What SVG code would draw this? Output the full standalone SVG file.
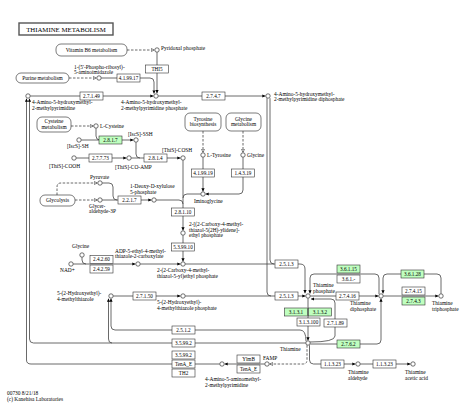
<svg xmlns="http://www.w3.org/2000/svg" width="474" height="404" viewBox="0 0 474 404">
<style>
.ln{fill:none;stroke:#444;stroke-width:0.8}
.ds{fill:none;stroke:#444;stroke-width:0.8;stroke-dasharray:2.5,1.5}
.box{fill:#fff;stroke:#333;stroke-width:0.6}
.gr{fill:#bfffbf}
.cpd{fill:#fff;stroke:#333;stroke-width:0.7}
.map{fill:#fff;stroke:#444;stroke-width:0.7}
text{font-family:"Liberation Serif","Times New Roman",serif;font-size:5.4px;fill:#000}
.c{text-anchor:middle}
.e{font-size:5.2px;text-anchor:middle}
</style>
<defs>
<marker id="a" viewBox="0 0 6 6" refX="6" refY="3" markerWidth="3.2" markerHeight="3.2" markerUnits="userSpaceOnUse" orient="auto"><path d="M0,0L6,3L0,6z" fill="#000"/></marker>
<marker id="o" viewBox="0 0 7 7" refX="6.5" refY="3.5" markerWidth="3.6" markerHeight="3.6" markerUnits="userSpaceOnUse" orient="auto"><path d="M0.6,0.6L6.4,3.5L0.6,6.4z" fill="#fff" stroke="#000" stroke-width="0.9"/></marker>
</defs>
<rect width="474" height="404" fill="#fff"/>
<g id="title"><rect x="19" y="23" width="94" height="12" fill="#fff" stroke="#555" stroke-width="1.4"/><text x="66" y="31.6" class="c" style="font-size:6.8px">THIAMINE METABOLISM</text></g>

<g id="connectors">
<path class="ds" d="M127,50H154.3" marker-end="url(#o)"/>
<path class="ds" d="M69,78H96.3" marker-end="url(#o)"/>
<path class="ds" d="M71,126H93.3" marker-end="url(#o)"/>
<path class="ds" d="M203,131V152.3" marker-end="url(#o)"/>
<path class="ds" d="M243,131V152.3" marker-end="url(#o)"/>
<path class="ds" d="M57,195V187Q57,183 61,183H97.3" marker-end="url(#o)"/>
<path class="ds" d="M75,200H97.3" marker-end="url(#o)"/>
<path class="ds" d="M307,345.2V360Q307,364 303,364H269.7" marker-end="url(#o)"/>
<path class="ln" d="M157,52.2V93.3" marker-end="url(#a)"/>
<path class="ln" d="M101.2,78H150Q154,78 154,82V93.6" marker-end="url(#a)"/>
<path class="ln" d="M30.2,96H153.5" marker-end="url(#a)"/>
<path class="ln" d="M158.2,96H265.5" marker-end="url(#a)"/>
<path class="ln" d="M81.2,140H133.5" marker-end="url(#a)"/>
<path class="ln" d="M96,128.2V136Q96,140 100,140"/>
<path class="ln" d="M136,142.2V154Q136,158 140,158"/>
<path class="ln" d="M76.2,158H126.5" marker-end="url(#a)"/>
<path class="ln" d="M131.2,158H180.5" marker-end="url(#a)"/>
<path class="ln" d="M183,160.2V230.5" marker-end="url(#a)"/>
<path class="ln" d="M156.2,200H179Q183,200 183,204"/>
<path class="ln" d="M200.8,194H187Q183,194 183,198"/>
<path class="ln" d="M102.2,183H109Q113,183 113,187V196Q113,200 117,200"/>
<path class="ln" d="M102.2,200H151.5" marker-end="url(#a)"/>
<path class="ln" d="M203,157.2V191.5" marker-end="url(#a)"/>
<path class="ln" d="M243,157.2V190Q243,194 239,194H205.5" marker-end="url(#a)"/>
<path class="ln" d="M183,235.2V261.5" marker-end="url(#a)"/>
<path class="ln" d="M82,257.2V260Q82,264 86,264"/>
<path class="ln" d="M73.2,264H135.5" marker-end="url(#a)"/>
<path class="ln" d="M140.2,264H180.5" marker-end="url(#a)"/>
<path class="ln" d="M185.2,264H300Q305,264 305,269V293.3" marker-end="url(#a)"/>
<path class="ln" d="M270,98.2V260Q270,264 274,264"/>
<path class="ln" d="M267,98.2V292Q267,296 271,296"/>
<path class="ln" d="M113.2,296H180.5" marker-end="url(#a)"/>
<path class="ln" d="M185.2,296H305.5" marker-end="url(#a)"/>
<path class="ln" d="M379,294V278Q379,274 375,274H314Q310,274 310,278V293.5" marker-end="url(#a)"/>
<path class="ln" d="M441,293.8V278Q441,274 437,274H387Q383,274 383,278V293.5" marker-end="url(#a)"/>
<path class="ln" d="M310.2,296H378.5" marker-end="url(#a)"/>
<path class="ln" d="M383.2,296H438.5" marker-end="url(#a)"/>
<path class="ln" d="M308,298.2V340.5" marker-end="url(#a)"/>
<path class="ln" d="M310,342Q335,342 335,336V303Q335,299 331,299H311" marker-end="url(#a)"/>
<path class="ln" d="M310.2,344H377Q381,344 381,340V298.5" marker-end="url(#a)"/>
<path class="ln" d="M306,341.2Q306,330 300,330H115Q111,330 111,326V298.5" marker-end="url(#a)"/>
<path class="ln" d="M305.8,343H33.5Q29.5,343 29.5,339V98.6" marker-end="url(#a)"/>
<path class="ln" d="M112,343Q108.5,343 108.5,339V298.6" marker-end="url(#a)"/>
<path class="ln" d="M219.8,364H31Q26.5,364 26.5,360V98.6" marker-end="url(#a)"/>
<path class="ln" d="M264.8,364H224.5" marker-end="url(#a)"/>
<path class="ln" d="M309.5,345.2V360Q309.5,364 313.5,364H355.5" marker-end="url(#a)"/>
<path class="ln" d="M360.2,364H410.5" marker-end="url(#a)"/>
</g>

<g id="maps">
<g id="map_vitb6"><rect class="map" x="56" y="44" width="71" height="12" rx="5"/><text x="91.5" y="51.9" class="c">Vitamin B6 metabolism</text></g>
<g id="map_purine"><rect class="map" x="16" y="73" width="53" height="10" rx="5"/><text x="42.5" y="79.9" class="c">Purine metabolism</text></g>
<g id="map_cysteine"><rect class="map" x="37" y="117" width="34" height="15" rx="5"/><text x="54" y="123.4" class="c">Cysteine</text><text x="54" y="129" class="c">metabolism</text></g>
<g id="map_tyrosine"><rect class="map" x="185" y="113" width="36" height="18" rx="5"/><text x="203" y="120.6" class="c">Tyrosine</text><text x="203" y="126.4" class="c">biosynthesis</text></g>
<g id="map_glycine"><rect class="map" x="226" y="113" width="35" height="18" rx="5"/><text x="243.5" y="120.6" class="c">Glycine</text><text x="243.5" y="126.4" class="c">metabolism</text></g>
<g id="map_glycolysis"><rect class="map" x="40" y="195" width="35" height="11" rx="5"/><text x="57.5" y="202.4" class="c">Glycolysis</text></g>
</g>

<g id="enzymes">
<g id="e_thi5"><rect class="box" x="145.5" y="65" width="23" height="8"/><text x="157" y="70.9" class="e">THI5</text></g>
<g id="e_4.1.99.17"><rect class="box" x="117" y="74" width="23" height="8"/><text x="128.5" y="79.9" class="e">4.1.99.17</text></g>
<g id="e_2.7.1.49"><rect class="box" x="80" y="92" width="23" height="8"/><text x="91.5" y="97.9" class="e">2.7.1.49</text></g>
<g id="e_2.7.4.7"><rect class="box" x="202" y="92" width="23" height="8"/><text x="213.5" y="97.9" class="e">2.7.4.7</text></g>
<g id="e_2.8.1.7"><rect class="box gr" x="99" y="136" width="23" height="8"/><text x="110.5" y="141.9" class="e">2.8.1.7</text></g>
<g id="e_2.7.7.73"><rect class="box" x="89" y="154" width="23" height="8"/><text x="100.5" y="159.9" class="e">2.7.7.73</text></g>
<g id="e_2.8.1.4"><rect class="box" x="144" y="154" width="23" height="8"/><text x="155.5" y="159.9" class="e">2.8.1.4</text></g>
<g id="e_4.1.99.19"><rect class="box" x="191.5" y="169" width="23" height="8"/><text x="203" y="174.9" class="e">4.1.99.19</text></g>
<g id="e_1.4.3.19"><rect class="box" x="231.5" y="169" width="23" height="8"/><text x="243" y="174.9" class="e">1.4.3.19</text></g>
<g id="e_2.2.1.7"><rect class="box" x="118" y="196" width="23" height="8"/><text x="129.5" y="201.9" class="e">2.2.1.7</text></g>
<g id="e_2.8.1.10"><rect class="box" x="171.5" y="208" width="23" height="8"/><text x="183" y="213.9" class="e">2.8.1.10</text></g>
<g id="e_5.3.99.10"><rect class="box" x="171.5" y="243" width="23" height="8"/><text x="183" y="248.9" class="e">5.3.99.10</text></g>
<g id="e_2.4.2.60"><rect class="box" x="90" y="255.5" width="23" height="8"/><text x="101.5" y="261.4" class="e">2.4.2.60</text></g>
<g id="e_2.4.2.59"><rect class="box" x="90" y="265" width="23" height="8"/><text x="101.5" y="270.9" class="e">2.4.2.59</text></g>
<g id="e_2.5.1.3a"><rect class="box" x="275" y="260" width="23" height="8"/><text x="286.5" y="265.9" class="e">2.5.1.3</text></g>
<g id="e_2.7.1.50"><rect class="box" x="133" y="292" width="23" height="8"/><text x="144.5" y="297.9" class="e">2.7.1.50</text></g>
<g id="e_2.5.1.3b"><rect class="box" x="275" y="292" width="23" height="8"/><text x="286.5" y="297.9" class="e">2.5.1.3</text></g>
<g id="e_3.6.1.15"><rect class="box gr" x="337" y="265" width="23" height="8"/><text x="348.5" y="270.9" class="e">3.6.1.15</text></g>
<g id="e_3.6.1.-"><rect class="box" x="337" y="275" width="23" height="8"/><text x="348.5" y="280.9" class="e">3.6.1.-</text></g>
<g id="e_3.6.1.28"><rect class="box gr" x="401" y="270" width="23" height="8"/><text x="412.5" y="275.9" class="e">3.6.1.28</text></g>
<g id="e_2.7.4.16"><rect class="box" x="336" y="292" width="23" height="8"/><text x="347.5" y="297.9" class="e">2.7.4.16</text></g>
<g id="e_2.7.4.15"><rect class="box" x="402" y="287" width="23" height="8"/><text x="413.5" y="292.9" class="e">2.7.4.15</text></g>
<g id="e_2.7.4.3"><rect class="box gr" x="402" y="297" width="23" height="8"/><text x="413.5" y="302.9" class="e">2.7.4.3</text></g>
<g id="e_3.1.3.1"><rect class="box gr" x="284.5" y="308" width="23" height="8"/><text x="296" y="313.9" class="e">3.1.3.1</text></g>
<g id="e_3.1.3.2"><rect class="box gr" x="308.5" y="308" width="23" height="8"/><text x="320" y="313.9" class="e">3.1.3.2</text></g>
<g id="e_3.1.3.100"><rect class="box" x="297" y="318" width="23" height="8"/><text x="308.5" y="323.9" class="e">3.1.3.100</text></g>
<g id="e_2.7.1.89"><rect class="box" x="324" y="319" width="23" height="8"/><text x="335.5" y="324.9" class="e">2.7.1.89</text></g>
<g id="e_2.5.1.2"><rect class="box" x="172" y="326" width="23" height="8"/><text x="183.5" y="331.9" class="e">2.5.1.2</text></g>
<g id="e_3.5.99.2a"><rect class="box" x="172" y="339" width="23" height="8"/><text x="183.5" y="344.9" class="e">3.5.99.2</text></g>
<g id="e_2.7.6.2"><rect class="box gr" x="337" y="340" width="23" height="8"/><text x="348.5" y="345.9" class="e">2.7.6.2</text></g>
<g id="e_3.5.99.2b"><rect class="box" x="172" y="351" width="23" height="8"/><text x="183.5" y="356.9" class="e">3.5.99.2</text></g>
<g id="e_tenA_E_a"><rect class="box" x="172" y="360" width="23" height="8"/><text x="183.5" y="365.9" class="e">TenA_E</text></g>
<g id="e_th2"><rect class="box" x="172" y="369" width="23" height="8"/><text x="183.5" y="374.9" class="e">TH2</text></g>
<g id="e_ylmB"><rect class="box" x="237" y="355" width="23" height="8"/><text x="248.5" y="360.9" class="e">YlmB</text></g>
<g id="e_tenA_E_b"><rect class="box" x="237" y="365" width="23" height="8"/><text x="248.5" y="370.9" class="e">TenA_E</text></g>
<g id="e_1.1.3.23a"><rect class="box" x="321" y="360" width="23" height="8"/><text x="332.5" y="365.9" class="e">1.1.3.23</text></g>
<g id="e_1.1.3.23b"><rect class="box" x="373" y="360" width="23" height="8"/><text x="384.5" y="365.9" class="e">1.1.3.23</text></g>
</g>

<g id="compounds">
<g id="c_plp"><circle class="cpd" cx="157" cy="50" r="2.2"/><text x="161" y="49.6">Pyridoxal phosphate</text></g>
<g id="c_air"><circle class="cpd" cx="99" cy="78" r="2.2"/><text x="74" y="68.6">1-(5'-Phospho-ribosyl)-</text><text x="74" y="73.6">5-aminoimidazole</text></g>
<g id="c_hmp"><circle class="cpd" cx="28" cy="96" r="2.2"/><text x="32" y="104">4-Amino-5-hydroxymethyl-</text><text x="32" y="109.6">2-methylpyrimidine</text></g>
<g id="c_hmpp"><circle class="cpd" cx="156" cy="96" r="2.2"/><text x="121" y="104">4-Amino-5-hydroxymethyl-</text><text x="121" y="109.6">2-methylpyrimidine phosphate</text></g>
<g id="c_hmppp"><circle class="cpd" cx="268" cy="96" r="2.2"/><text x="274" y="95.6">4-Amino-5-hydroxymethyl-</text><text x="274" y="101">2-methylpyrimidine diphosphate</text></g>
<g id="c_cys"><circle class="cpd" cx="96" cy="126" r="2.2"/><text x="100" y="127.8">L-Cysteine</text></g>
<g id="c_iscs_sh"><circle class="cpd" cx="79" cy="140" r="2.2"/><text x="67" y="148.4">[IscS]-SH</text></g>
<g id="c_iscs_ssh"><circle class="cpd" cx="136" cy="140" r="2.2"/><text x="128" y="135.6">[IscS]-SSH</text></g>
<g id="c_this_cooh"><circle class="cpd" cx="74" cy="158" r="2.2"/><text x="49" y="168">[ThiS]-COOH</text></g>
<g id="c_this_amp"><circle class="cpd" cx="129" cy="158" r="2.2"/><text x="115" y="168.6">[ThiS]-CO-AMP</text></g>
<g id="c_this_cosh"><circle class="cpd" cx="183" cy="158" r="2.2"/><text x="162" y="152.2">[ThiS]-COSH</text></g>
<g id="c_pyr"><circle class="cpd" cx="100" cy="183" r="2.2"/><text x="90" y="178.8">Pyruvate</text></g>
<g id="c_gap"><circle class="cpd" cx="100" cy="200" r="2.2"/><text x="89" y="207.8">Glycer-</text><text x="89" y="213.4">aldehyde-3P</text></g>
<g id="c_dxp"><circle class="cpd" cx="154" cy="200" r="2.2"/><text x="130" y="188.2">1-Deoxy-D-xylulose</text><text x="130" y="193.6">5-phosphate</text></g>
<g id="c_tyr"><circle class="cpd" cx="203" cy="155" r="2.2"/><text x="207" y="156.8">L-Tyrosine</text></g>
<g id="c_gly"><circle class="cpd" cx="243" cy="155" r="2.2"/><text x="247" y="156.8">Glycine</text></g>
<g id="c_imino"><circle class="cpd" cx="203" cy="194" r="2.2"/><text x="194" y="202.8">Iminoglycine</text></g>
<g id="c_cthz"><circle class="cpd" cx="183" cy="233" r="2.2"/><text x="189" y="226">2-[(2-Carboxy-4-methyl-</text><text x="189" y="231.5">thiazol-5(2H)-ylidene]-</text><text x="189" y="237">ethyl phosphate</text></g>
<g id="c_gly2"><circle class="cpd" cx="82" cy="255" r="2.2"/><text x="72" y="247.6">Glycine</text></g>
<g id="c_nad"><circle class="cpd" cx="71" cy="264" r="2.2"/><text x="60" y="271.6">NAD+</text></g>
<g id="c_adpthz"><circle class="cpd" cx="138" cy="264" r="2.2"/><text x="115" y="252.6">ADP-5-ethyl-4-methyl-</text><text x="115" y="258">thiazole-2-carboxylate</text></g>
<g id="c_cthzp"><circle class="cpd" cx="183" cy="264" r="2.2"/><text x="157" y="272.4">2-(2-Carboxy-4-methyl-</text><text x="157" y="277.8">thiazol-5-yl)ethyl phosphate</text></g>
<g id="c_het"><circle class="cpd" cx="111" cy="296" r="2.2"/><text x="57" y="295">5-(2-Hydroxyethyl)-</text><text x="57" y="300.6">4-methylthiazole</text></g>
<g id="c_hetp"><circle class="cpd" cx="183" cy="296" r="2.2"/><text x="157" y="304.2">5-(2-Hydroxyethyl)-</text><text x="157" y="309.8">4-methylthiazole phosphate</text></g>
<g id="c_tp"><circle class="cpd" cx="308" cy="296" r="2.2"/><text x="313" y="287">Thiamine</text><text x="313" y="292.5">phosphate</text></g>
<g id="c_tdp"><circle class="cpd" cx="381" cy="296" r="2.2"/><text x="350" y="305">Thiamine</text><text x="350" y="310.5">diphosphate</text></g>
<g id="c_ttp"><circle class="cpd" cx="441" cy="296" r="2.2"/><text x="432" y="305.4">Thiamine</text><text x="432" y="311">triphosphate</text></g>
<g id="c_thiamine"><circle class="cpd" cx="308" cy="343" r="2.2"/><text x="280" y="350.8">Thiamine</text></g>
<g id="c_thald"><circle class="cpd" cx="358" cy="364" r="2.2"/><text x="348" y="374">Thiamine</text><text x="348" y="379.5">aldehyde</text></g>
<g id="c_thac"><circle class="cpd" cx="413" cy="364" r="2.2"/><text x="405" y="374">Thiamine</text><text x="405" y="379.5">acetic acid</text></g>
<g id="c_famp"><circle class="cpd" cx="267" cy="364" r="2.2"/><text x="263" y="360">FAMP</text></g>
<g id="c_ammp"><circle class="cpd" cx="222" cy="364" r="2.2"/><text x="205" y="381">4-Amino-5-aminomethyl-</text><text x="205" y="386.5">2-methylpyrimidine</text></g>
</g>

<g id="footer"><text x="7" y="395">00730 8/21/18</text><text x="7" y="401">(c) Kanehisa Laboratories</text></g>
</svg>
